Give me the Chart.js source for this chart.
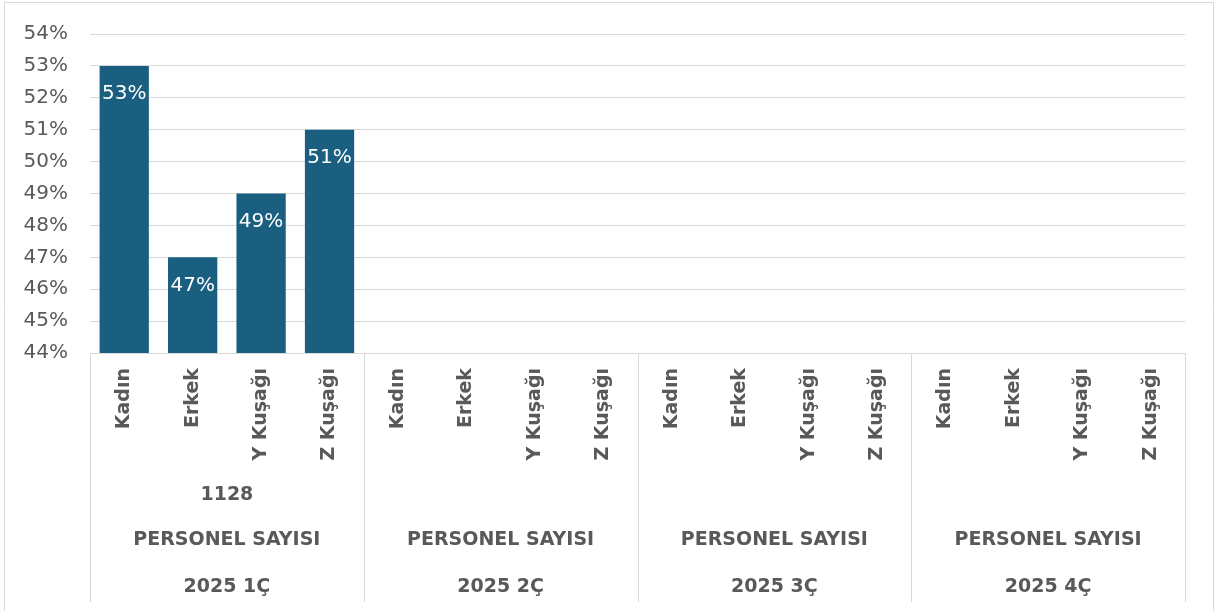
<!DOCTYPE html>
<html>
<head>
<meta charset="utf-8">
<script src="https://cdn.jsdelivr.net/npm/chart.js@4.4.1/dist/chart.umd.min.js"></script>
<style>
  html, body { margin: 0; padding: 0; background: #fff; }
  #wrap { width: 1215px; height: 611px; position: relative; }
</style>
</head>
<body>
<div id="wrap"><canvas id="barChart"></canvas></div>
<script>
// category levels (inner -> outer)
const categories = ['Kadın', 'Erkek', 'Y Kuşağı', 'Z Kuşağı'];
const headcounts = ['1128', '', '', ''];
const groupTitles = ['PERSONEL SAYISI', 'PERSONEL SAYISI', 'PERSONEL SAYISI', 'PERSONEL SAYISI'];
const quarters = ['2025 1Ç', '2025 2Ç', '2025 3Ç', '2025 4Ç'];

// percent values per quarter, null = no data yet
const q1Values = [53, 47, 49, 51];
const q2Values = [null, null, null, null];
const q3Values = [null, null, null, null];
const q4Values = [null, null, null, null];

const yMin = 44;
const yMax = 54;

var labels = [];
quarters.forEach(function () { categories.forEach(function (c) { labels.push(c); }); });
var values = [].concat(q1Values, q2Values, q3Values, q4Values);

const textGray = '#595959';
const lineGray = '#D9D9D9';
const fontFamily = '"DejaVu Sans", sans-serif';

const groupPlugin = {
  id: 'groupPlugin',
  beforeDraw(chart) {
    const ctx = chart.ctx;
    ctx.save();
    ctx.strokeStyle = lineGray;
    ctx.lineWidth = 1;
    ctx.beginPath();
    ctx.moveTo(4.5, 620);
    ctx.lineTo(4.5, 2.5);
    ctx.lineTo(1213.5, 2.5);
    ctx.lineTo(1213.5, 620);
    ctx.stroke();
    ctx.restore();
  },
  afterDraw(chart) {
    const ctx = chart.ctx;
    const x = chart.scales.x;
    const area = chart.chartArea;
    const groupW = x.width / quarters.length;

    ctx.save();
    // separators between quarters
    ctx.strokeStyle = lineGray;
    ctx.lineWidth = 1;
    for (let g = 0; g <= quarters.length; g++) {
      const px = Math.round(x.left + g * groupW) + 0.5;
      ctx.beginPath();
      ctx.moveTo(px, area.bottom);
      ctx.lineTo(px, 602);
      ctx.stroke();
    }

    // outer level labels
    ctx.fillStyle = textGray;
    ctx.font = 'bold 19px ' + fontFamily;
    ctx.textAlign = 'center';
    ctx.textBaseline = 'middle';
    for (let g = 0; g < quarters.length; g++) {
      const cx = x.left + (g + 0.5) * groupW;
      if (headcounts[g]) ctx.fillText(headcounts[g], cx, area.bottom + 142);
      ctx.fillText(groupTitles[g], cx, area.bottom + 187);
      ctx.fillText(quarters[g], cx, area.bottom + 234);
    }

    // value labels inside the bars
    const meta = chart.getDatasetMeta(0);
    ctx.fillStyle = '#ffffff';
    ctx.font = '20px ' + fontFamily;
    meta.data.forEach(function (bar, i) {
      const v = values[i];
      if (v === null || v === undefined) return;
      ctx.fillText(v + '%', bar.x, bar.y + 28);
    });
    ctx.restore();
  }
};

new Chart('barChart', {
  type: 'bar',
  data: {
    labels: labels,
    datasets: [{
      data: values,
      backgroundColor: '#1A5F80',
      categoryPercentage: 1,
      barPercentage: 0.72
    }]
  },
  options: {
    responsive: true,
    maintainAspectRatio: false,
    animation: false,
    layout: { padding: { left: 0, right: 30, top: 32, bottom: 0 } },
    plugins: {
      legend: { display: false },
      tooltip: { enabled: false }
    },
    scales: {
      x: {
        grid: { display: false, drawTicks: false },
        border: { display: false },
        ticks: {
          autoSkip: false,
          minRotation: 90,
          maxRotation: 90,
          padding: 15,
          color: textGray,
          font: { family: fontFamily, size: 19, weight: 'bold' }
        },
        afterFit(scale) { scale.height = 258; }
      },
      y: {
        min: yMin,
        max: yMax,
        grid: { color: lineGray, lineWidth: 1, drawTicks: false },
        border: { display: false },
        ticks: {
          stepSize: 1,
          padding: 22,
          color: textGray,
          font: { family: fontFamily, size: 20 },
          callback: function (v) { return v + '%'; }
        },
        afterFit(scale) { scale.width = 90; }
      }
    }
  },
  plugins: [groupPlugin]
});
</script>
</body>
</html>
